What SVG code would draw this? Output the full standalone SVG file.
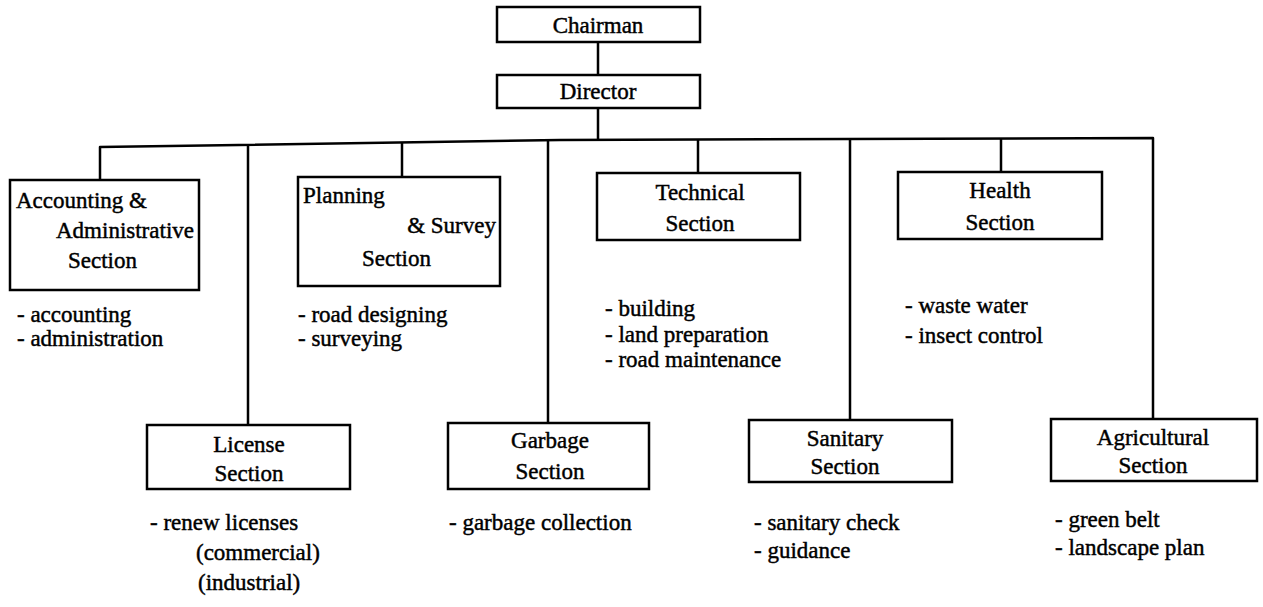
<svg xmlns="http://www.w3.org/2000/svg" width="1263" height="607" viewBox="0 0 1263 607">
<style>
.box{fill:#fff;stroke:#000;stroke-width:2.5}
.t{font-family:"Liberation Serif","Times New Roman",serif;font-size:23px;fill:#000;stroke:#000;stroke-width:0.45}
.c{text-anchor:middle}
.e{text-anchor:end}
.ln{fill:none;stroke:#000;stroke-width:2.5;stroke-linejoin:round}
</style>
<rect width="1263" height="607" fill="#fff"/>
<g id="connectors">
<path class="ln" d="M598,42 V75 M598,108 V140"/>
<path class="ln" d="M100,180 V147 L560,140 L1153,138 V419"/>
<path class="ln" d="M248,146 V425 M402,143 V177 M548,141 V423 M698,140 V173 M850,139 V420 M1001,138 V172"/>
</g>
<g id="chairman"><rect class="box" x="497" y="7" width="203" height="35"/><text class="t c" x="598" y="33">Chairman</text></g>
<g id="director"><rect class="box" x="497" y="75" width="203" height="33"/><text class="t c" x="598" y="99">Director</text></g>
<g id="accounting"><rect class="box" x="10" y="180" width="189" height="110"/>
<text class="t" x="16" y="208">Accounting &amp;</text><text class="t" x="56" y="238">Administrative</text><text class="t" x="68" y="268">Section</text>
<text class="t" x="17" y="322">- accounting</text><text class="t" x="17" y="346">- administration</text></g>
<g id="planning"><rect class="box" x="298" y="177" width="202" height="109"/>
<text class="t" x="303" y="203">Planning</text><text class="t e" x="496" y="233">&amp; Survey</text><text class="t" x="362" y="266">Section</text>
<text class="t" x="298" y="322">- road designing</text><text class="t" x="298" y="346">- surveying</text></g>
<g id="technical"><rect class="box" x="597" y="173" width="203" height="67"/>
<text class="t c" x="700" y="200">Technical</text><text class="t c" x="700" y="231">Section</text>
<text class="t" x="605" y="316">- building</text><text class="t" x="605" y="342">- land preparation</text><text class="t" x="605" y="367">- road maintenance</text></g>
<g id="health"><rect class="box" x="898" y="172" width="204" height="67"/>
<text class="t c" x="1000" y="198">Health</text><text class="t c" x="1000" y="230">Section</text>
<text class="t" x="905" y="313">- waste water</text><text class="t" x="905" y="343">- insect control</text></g>
<g id="license"><rect class="box" x="147" y="425" width="203" height="64"/>
<text class="t c" x="249" y="452">License</text><text class="t c" x="249" y="481">Section</text>
<text class="t" x="150" y="530">- renew licenses</text><text class="t" x="196" y="560">(commercial)</text><text class="t" x="198" y="590">(industrial)</text></g>
<g id="garbage"><rect class="box" x="448" y="423" width="201" height="66"/>
<text class="t c" x="550" y="448">Garbage</text><text class="t c" x="550" y="479">Section</text>
<text class="t" x="449" y="530">- garbage collection</text></g>
<g id="sanitary"><rect class="box" x="749" y="420" width="203" height="62"/>
<text class="t c" x="845" y="446">Sanitary</text><text class="t c" x="845" y="474">Section</text>
<text class="t" x="754" y="530">- sanitary check</text><text class="t" x="754" y="558">- guidance</text></g>
<g id="agricultural"><rect class="box" x="1051" y="419" width="206" height="62"/>
<text class="t c" x="1153" y="445">Agricultural</text><text class="t c" x="1153" y="473">Section</text>
<text class="t" x="1055" y="527">- green belt</text><text class="t" x="1055" y="555">- landscape plan</text></g>
</svg>
